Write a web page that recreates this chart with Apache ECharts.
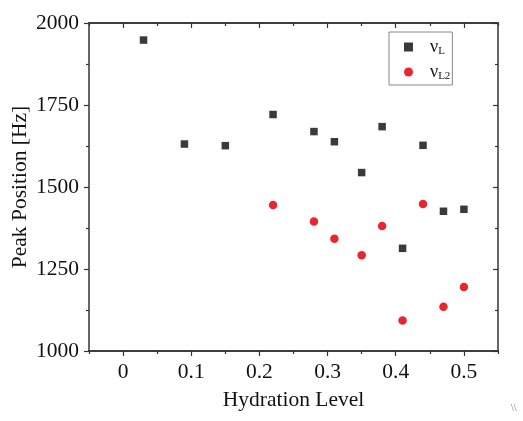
<!DOCTYPE html>
<html>
<head>
<meta charset="utf-8">
<script src="https://cdn.jsdelivr.net/npm/echarts@6/dist/echarts.min.js"></script>
<style>html,body{margin:0;padding:0;background:#fff}#c{width:523px;height:421px}</style>
</head>
<body>
<div id="c"></div>
<script>
var seriesNames = ['vL', 'vL2'];
var xL = [0.03, 0.09, 0.15, 0.22, 0.28, 0.31, 0.35, 0.38, 0.41, 0.44, 0.47, 0.50];
var yL = [1948, 1631, 1626, 1721, 1669, 1638, 1544, 1684, 1313, 1627, 1426, 1432];
var xL2 = [0.22, 0.28, 0.31, 0.35, 0.38, 0.41, 0.44, 0.47, 0.50];
var yL2 = [1445, 1395, 1342, 1292, 1381, 1093, 1448, 1135, 1195];
var xMajorTicks = [0, 0.1, 0.2, 0.3, 0.4, 0.5];
var xMinorTicks = [-0.05, 0.05, 0.15, 0.25, 0.35, 0.45, 0.55];
var xTitle = 'Hydration Level';
var yTitle = 'Peak Position [Hz]';

var FONT = 'Liberation Serif';
var FS = 21.5;
var AX = '#333';
function pairs(xs, ys) { return xs.map(function (x, i) { return [x, ys[i]]; }); }

function xAxisDef(pos, ticks, len, inside, showLabel, showName) {
  return {
    type: 'value', position: pos, min: -0.05, max: 0.55,
    name: showName ? xTitle : '', nameLocation: 'middle', nameGap: 38,
    nameTextStyle: { fontFamily: FONT, fontSize: FS, color: '#111' },
    axisLine: { show: true, onZero: false, lineStyle: { color: AX, width: 1.5 } },
    axisTick: { show: true, inside: inside, length: len, customValues: ticks, lineStyle: { color: AX, width: 1.2 } },
    axisLabel: showLabel ? { show: true, customValues: xMajorTicks, fontFamily: FONT, fontSize: FS, color: '#111', margin: 10 } : { show: false },
    splitLine: { show: false }
  };
}

function yAxisDef(pos, inside, showLabel) {
  return {
    type: 'value', position: pos, min: 1000, max: 2000, interval: 250,
    name: showLabel ? yTitle : '', nameLocation: 'middle', nameGap: 58, nameMoveOverlap: false,
    nameTextStyle: { fontFamily: FONT, fontSize: FS, color: '#111' },
    axisLine: { show: true, onZero: false, lineStyle: { color: AX, width: 1.5 } },
    axisTick: { show: true, inside: inside, length: 5, lineStyle: { color: AX, width: 1.2 } },
    minorTick: { show: true, splitNumber: 2, length: 3, lineStyle: { color: AX, width: 1.2 } },
    axisLabel: showLabel ? { show: true, fontFamily: FONT, fontSize: FS, color: '#111', margin: 10,
      formatter: function (v) { return String(v); } } : { show: false },
    splitLine: { show: false }
  };
}

var chart = echarts.init(document.getElementById('c'), null, { renderer: 'canvas' });
chart.setOption({
  animation: false,
  backgroundColor: '#fff',
  grid: { left: 89, right: 25, top: 23, bottom: 70, containLabel: false, outerBoundsMode: 'none' },
  legend: {
    orient: 'vertical', left: 389, top: 32,
    data: seriesNames,
    borderColor: '#888', borderWidth: 1, padding: [6, 2, 3, 15],
    itemGap: 6, itemWidth: 9, itemHeight: 9,
    formatter: function (n) { return '{a|ν}{b|' + n.slice(1) + '}'; },
    textStyle: {
      rich: {
        a: { fontFamily: FONT, fontSize: 18, color: '#111', padding: [0, 0, 0, 12] },
        b: { fontFamily: FONT, fontSize: 11, color: '#111', verticalAlign: 'bottom', padding: [9, 0, 0, 0] }
      }
    }
  },
  xAxis: [
    xAxisDef('bottom', xMajorTicks, 5, false, true, true),
    xAxisDef('bottom', xMinorTicks, 3, false, false, false),
    xAxisDef('top', xMajorTicks, 5, true, false, false),
    xAxisDef('top', xMinorTicks, 3, true, false, false)
  ],
  yAxis: [
    yAxisDef('left', false, true),
    yAxisDef('right', true, false)
  ],
  series: [
    {
      name: seriesNames[0], type: 'scatter', symbol: 'rect', symbolSize: 7.5,
      itemStyle: { color: '#3a3a3a', opacity: 1 },
      data: pairs(xL, yL)
    },
    {
      name: seriesNames[1], type: 'scatter', symbol: 'circle', symbolSize: 8.5,
      itemStyle: { color: '#e8262f', opacity: 1 },
      data: pairs(xL2, yL2)
    }
  ],
  graphic: [
    { type: 'text', left: 511, top: 403, style: { text: '\\\\', fontFamily: FONT, fontSize: 10, fill: '#777' } }
  ]
});
</script>
</body>
</html>
